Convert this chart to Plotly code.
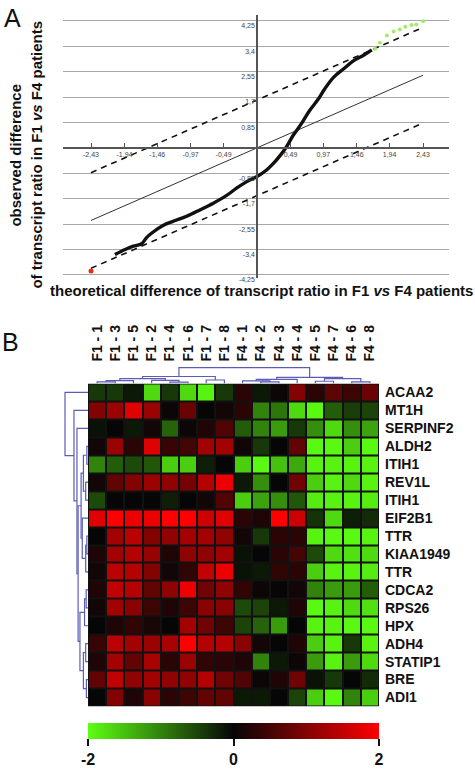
import plotly.graph_objects as go

# ---------------- Panel A data ----------------
theo = [-2.08, -1.93, -1.81, -1.69, -1.62, -1.54, -1.37, -1.23, -1.03, -0.83, -0.64, -0.45,
        -0.30, -0.15, 0.0, 0.14, 0.24, 0.34, 0.43, 0.53, 0.65, 0.77, 0.90, 0.99, 1.12,
        1.26, 1.41, 1.56, 1.68]
obs = [-3.57, -3.40, -3.29, -3.21, -3.01, -2.85, -2.59, -2.46, -2.29, -2.07, -1.85, -1.60,
       -1.35, -1.13, -0.96, -0.74, -0.52, -0.25, 0.03, 0.42, 0.81, 1.25, 1.64, 1.97, 2.36,
       2.63, 2.91, 3.10, 3.28]
green_theo = [1.73, 1.80, 1.90, 2.00, 2.09, 2.17, 2.26, 2.33, 2.43]
green_obs = [3.32, 3.52, 3.76, 3.89, 3.96, 4.05, 4.11, 4.13, 4.24]
red_theo = [-2.43]
red_obs = [-4.12]
ref_x = [-2.43, 2.43]
delta = 1.6
x_ticks = [-2.43, -1.94, -1.46, -0.97, -0.49, 0.49, 0.97, 1.46, 1.94, 2.43]
x_ticklabels = ["-2,43", "-1,94", "-1,46", "-0,97", "-0,49", "0,49", "0,97", "1,46", "1,94", "2,43"]
y_ticks = [-4.25, -3.4, -2.55, -1.7, -0.85, 0.85, 1.7, 2.55, 3.4, 4.25]
y_ticklabels = ["-4,25", "-3,4", "-2,55", "-1,7", "-0,85", "0,85", "1,7", "2,55", "3,4", "4,25"]

# ---------------- Panel B data ----------------
samples = ["F1 - 1", "F1 - 3", "F1 - 5", "F1 - 2", "F1 - 4", "F1 - 6", "F1 - 7", "F1 - 8",
           "F4 - 1", "F4 - 2", "F4 - 3", "F4 - 4", "F4 - 5", "F4 - 7", "F4 - 6", "F4 - 8"]
genes = ["ACAA2", "MT1H", "SERPINF2", "ALDH2", "ITIH1", "REV1L", "ITIH1", "EIF2B1", "TTR",
         "KIAA1949", "TTR", "CDCA2", "RPS26", "HPX", "ADH4", "STATIP1", "BRE", "ADI1"]
expr = [
    [-0.4, -0.4, -0.15, -1.7, -0.4, -1.7, -1.9, -0.4, 0.3, -0.15, 0.05, 1.0, 0.3, 0.7, 0.45, 0.8],
    [1.0, 1.2, 1.75, 1.2, 0.05, 0.8, 0.0, 0.1, 0.3, -1.0, -0.9, -1.7, -1.95, -0.7, -0.45, -0.5],
    [-0.1, 0.0, -0.15, 0.1, -0.75, 0.05, 0.2, 0.6, -0.7, -1.0, -1.2, -0.4, -1.1, -1.7, -1.1, -1.25],
    [0.1, 1.2, 0.3, 1.75, 0.4, 0.5, 1.25, 1.25, 0.08, -0.4, 0.0, 0.75, -1.95, -1.95, -1.6, -1.95],
    [-1.0, -0.7, -0.55, -0.65, -1.6, -1.6, -0.2, 0.0, -1.6, -1.95, -1.5, -1.3, -1.9, -1.9, -1.9, -1.9],
    [0.1, 0.75, 1.0, 1.2, 1.1, 0.9, 1.4, 1.85, -0.15, -1.1, 0.0, 0.85, -1.6, -1.9, -1.7, -1.9],
    [-0.55, 0.0, 0.0, 0.0, -0.2, 0.0, 0.1, 0.6, -1.6, -1.25, -1.1, -0.65, -1.85, -1.9, -1.9, -1.85],
    [1.75, 2.0, 1.85, 1.85, 2.0, 2.0, 1.6, 1.75, 0.3, 0.2, 2.0, 1.6, -0.35, -1.7, -0.2, -0.3],
    [0.0, 1.25, 1.45, 1.0, 1.1, 1.25, 1.25, 1.1, 0.1, -0.4, 0.3, 0.3, -1.9, -1.95, -1.95, -1.9],
    [0.2, 1.25, 1.4, 1.15, 0.2, 1.1, 1.1, 1.25, -0.1, 0.0, 0.3, 0.5, -0.55, -1.7, -1.75, -1.7],
    [0.1, 1.45, 1.4, 1.0, 0.1, 0.35, 1.5, 1.85, -0.1, -0.15, 0.35, 0.3, -1.6, -1.9, -1.9, -1.85],
    [0.2, 1.5, 1.4, 0.75, 1.1, 1.85, 0.85, 1.1, 0.35, 0.05, 0.0, 0.1, -1.0, -1.2, -1.2, -0.7],
    [0.1, 1.25, 1.05, 0.45, 0.2, 0.45, 1.05, 1.05, -0.55, -0.5, -0.15, 0.2, -1.95, -1.9, -1.7, -1.75],
    [0.0, 0.2, 0.35, 0.15, 0.0, 1.25, 0.85, 0.45, -0.5, -0.75, -1.2, 0.0, -1.9, -1.9, -1.95, -1.95],
    [0.4, 1.45, 1.25, 1.2, 1.3, 2.0, 1.4, 1.4, 1.05, 0.1, 0.0, 0.2, -1.6, -1.9, -0.4, -1.9],
    [0.2, 1.25, 0.75, 1.3, 0.3, 1.2, 0.35, 0.3, 0.2, -1.0, -0.15, 0.05, -1.2, -1.9, -1.2, -1.7],
    [0.75, 1.5, 1.1, 1.25, 1.1, 1.1, 1.4, 0.85, 0.6, 0.05, 0.2, 0.85, -0.1, -0.4, 0.0, -0.3],
    [0.0, 1.0, 0.2, 1.05, 0.3, 0.45, 0.75, 0.75, -0.15, -0.15, 0.0, -0.5, -1.6, -1.95, -1.0, -1.6],
]
colorbar_ticks = [-2, 0, 2]

# dendrogram trees: (left, right, merge height); leaves are indices
col_tree = (
    (((((0, 1, 0.10), 2, 0.18), (3, (4, 5, 0.08), 0.20), 0.30)), (6, 7, 0.22), 0.44),
    ((((8, (9, 10, 0.10), 0.16), 11, 0.26)), ((12, 13, 0.14), (14, 15, 0.10), 0.30), 0.38),
    1.0)
row_tree = (0, (1, (2, (
    (((3, 4, 0.05), (5, 6, 0.10), 0.20), (7, ((8, 9, 0.05), 10, 0.10), 0.25), 0.30),
    (((11, 12, 0.08), 13, 0.15), ((14, 15, 0.10), (16, 17, 0.07), 0.20), 0.35),
    0.43), 0.48), 0.61), 1.0)


def dendro(node, xs, ys):
    if isinstance(node, int):
        return node, 0.0
    left, right, h = node
    cl, hl = dendro(left, xs, ys)
    cr, hr = dendro(right, xs, ys)
    xs.extend([cl, cl, cr, cr, None])
    ys.extend([hl, h, h, hr, None])
    return (cl + cr) / 2.0, h


W, H = 475, 769


def px(v):
    return v / W


def py(v):
    return 1 - v / H


fig = go.Figure()

# ---- Panel A ----
xr = [-2.84, 2.81]
yr = [-4.37, 4.45]
xdom = [px(63), px(449)]
ydom = [py(281), py(15)]

fig.add_trace(go.Scatter(x=ref_x, y=ref_x, mode="lines", line=dict(color="#333", width=1),
                         xaxis="x", yaxis="y", showlegend=False, hoverinfo="skip"))
fig.add_trace(go.Scatter(x=ref_x, y=[v + delta for v in ref_x], mode="lines",
                         line=dict(color="#111", width=1.6, dash="6px,5px"),
                         xaxis="x", yaxis="y", showlegend=False, hoverinfo="skip"))
fig.add_trace(go.Scatter(x=ref_x, y=[v - delta for v in ref_x], mode="lines",
                         line=dict(color="#111", width=1.6, dash="6px,5px"),
                         xaxis="x", yaxis="y", showlegend=False, hoverinfo="skip"))
fig.add_trace(go.Scatter(x=theo, y=obs, mode="lines", line=dict(color="#111", width=3.4, shape="spline"),
                         xaxis="x", yaxis="y", showlegend=False))
fig.add_trace(go.Scatter(x=green_theo, y=green_obs, mode="markers",
                         marker=dict(color="#a6ea6a", size=4),
                         xaxis="x", yaxis="y", showlegend=False))
fig.add_trace(go.Scatter(x=red_theo, y=red_obs, mode="markers",
                         marker=dict(color="#e0301a", size=5),
                         xaxis="x", yaxis="y", showlegend=False))

pos_x0 = xdom[0] + (0 - xr[0]) / (xr[1] - xr[0]) * (xdom[1] - xdom[0])
pos_y0 = ydom[0] + (0 - yr[0]) / (yr[1] - yr[0]) * (ydom[1] - ydom[0])

# ---- Panel B ----
hx_dom = [px(88), px(379)]
hy_dom = [py(713), py(387)]
nrow, ncol = len(genes), len(samples)

fig.add_trace(go.Heatmap(
    z=expr, x=list(range(ncol)), y=list(range(nrow)),
    xaxis="x2", yaxis="y2", zmin=-2, zmax=2, xgap=2, ygap=2,
    colorscale=[[0, "#5cff12"], [0.5, "#060606"], [1, "#ff0000"]],
    colorbar=dict(orientation="h", x=(hx_dom[0] + hx_dom[1]) / 2, xanchor="center",
                  y=py(730), yanchor="top", lenmode="pixels", len=291, thickness=16,
                  thicknessmode="pixels", outlinewidth=0, xpad=0, ypad=0,
                  tickvals=colorbar_ticks, ticktext=[str(v) for v in colorbar_ticks],
                  ticks="outside", ticklen=7, tickwidth=2, tickcolor="#111",
                  tickfont=dict(size=16, family="Liberation Sans", color="#111", weight="bold")),
    showscale=True))

cx, cy = [], []
dendro(col_tree, cx, cy)
fig.add_trace(go.Scatter(x=cx, y=cy, mode="lines", line=dict(color="#5b5bb8", width=1.2),
                         xaxis="x3", yaxis="y3", showlegend=False, hoverinfo="skip"))
rx, ry = [], []
dendro(row_tree, rx, ry)
fig.add_trace(go.Scatter(x=ry, y=rx, mode="lines", line=dict(color="#5b5bb8", width=1.2),
                         xaxis="x4", yaxis="y4", showlegend=False, hoverinfo="skip"))

lab_font = dict(family="Liberation Sans", size=14, color="#111", weight="bold")
title_font = dict(family="Liberation Sans", size=15, color="#111", weight="bold")

fig.update_layout(
    width=W, height=H, margin=dict(l=0, r=0, t=0, b=0),
    paper_bgcolor="white", plot_bgcolor="rgba(0,0,0,0)",
    font=dict(family="Liberation Sans"),
    xaxis=dict(domain=xdom, range=xr, anchor="free", position=pos_y0,
               tickvals=x_ticks, ticktext=x_ticklabels, ticks="inside", ticklen=4,
               tickcolor="#555", tickwidth=1, showgrid=False, zeroline=False,
               showline=True, linecolor="#555", linewidth=1.5,
               tickfont=dict(size=7, color="#444")),
    yaxis=dict(domain=ydom, range=yr, anchor="free", position=pos_x0,
               tickvals=y_ticks, ticktext=y_ticklabels, ticks="", showgrid=True,
               gridcolor="#a8a8a8", gridwidth=1, zeroline=False,
               showline=True, linecolor="#555", linewidth=1.5, ticklabelshift=5,
               tickfont=dict(size=7, color="#444")),
    xaxis2=dict(domain=hx_dom, range=[-0.5, ncol - 0.5], anchor="y2", showticklabels=False,
                showgrid=False, zeroline=False, ticks=""),
    yaxis2=dict(domain=hy_dom, range=[nrow - 0.5, -0.5], anchor="x2", side="right",
                tickvals=list(range(nrow)), ticktext=genes, ticks="", showgrid=False,
                zeroline=False, ticklabelstandoff=5, tickfont=lab_font),
    xaxis3=dict(domain=hx_dom, range=[-0.5, ncol - 0.5], anchor="y3", side="top",
                tickvals=list(range(ncol)), ticktext=samples, tickangle=-90, ticks="",
                showgrid=False, zeroline=False, tickfont=lab_font, ticklabelstandoff=4),
    yaxis3=dict(domain=[py(387), py(370)], range=[0, 1.06], anchor="x3", visible=False),
    xaxis4=dict(domain=[px(63), px(88)], range=[1.087, 0], anchor="y4", visible=False),
    yaxis4=dict(domain=hy_dom, range=[nrow - 0.5, -0.5], anchor="x4", visible=False),
    shapes=[dict(type="rect", xref="x2", yref="y2", x0=-0.5, x1=ncol - 0.5, y0=-0.5,
                 y1=nrow - 0.5, fillcolor="#111", line=dict(width=0), layer="below")],
    annotations=[
        dict(text="A", x=px(2), y=py(2), xref="paper", yref="paper", xanchor="left",
             yanchor="top", showarrow=False, font=dict(size=25, color="#111")),
        dict(text="B", x=px(0), y=py(329), xref="paper", yref="paper", xanchor="left",
             yanchor="top", showarrow=False, font=dict(size=25, color="#111")),
        dict(text="observed difference", x=px(16), y=py(157), xref="paper", yref="paper",
             xanchor="center", yanchor="middle", textangle=-90, showarrow=False,
             font=title_font),
        dict(text="of transcript ratio in F1 <i>vs</i> F4 patients", x=px(37), y=py(156),
             xref="paper", yref="paper", xanchor="center", yanchor="middle",
             textangle=-90, showarrow=False, font=title_font),
        dict(text="theoretical difference of transcript ratio in F1 <i>vs</i> F4 patients",
             x=px(261), y=py(293), xref="paper", yref="paper", xanchor="center",
             yanchor="middle", showarrow=False, font=title_font),
    ],
)

fig.write_html("out.html", config={"displayModeBar": False},
               post_script="document.body.style.margin='0';")
